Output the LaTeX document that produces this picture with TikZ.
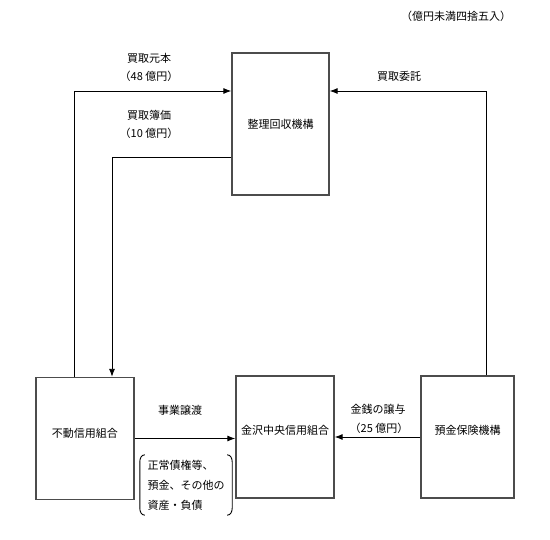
\documentclass[tikz,border=0pt]{standalone}
\usepackage{fontspec}
\setmainfont{Noto Sans CJK JP}
\usetikzlibrary{arrows.meta}

\begin{document}
\begin{tikzpicture}[x=1pt,y=-1pt]
    % styles
    \tikzset{
      orgbox/.style   = {draw=black!70, line width=1.3pt, minimum width=97pt, minimum height=122pt, inner sep=0pt},
      flow/.style     = {-{Latex[length=8pt,width=6pt]}, line width=0.9pt, draw=black},
      lbl/.style      = {font=\fontsize{11}{13}\selectfont, inner sep=0pt},
      brk/.style      = {line width=0.9pt, draw=black}
    }
    \useasboundingbox (0,0) rectangle (550,540);
    \node[lbl] (note) at (456,16) {（億円未満四捨五入）};

    % organisations:
    \node[orgbox, minimum height=142pt, lbl] (seiri) at (280.5,124) {整理回収機構};
    \node[orgbox, minimum width=98pt, label={[lbl,yshift=5pt]center:不動信用組合}] (fudo) at (85,438.5) {};
    \node[orgbox, minimum width=98pt, label={[lbl,yshift=7pt]center:金沢中央信用組合}] (kanazawa) at (285,437) {};
    \node[orgbox, minimum width=93pt, label={[lbl,yshift=7pt]center:預金保険機構}] (yokin) at (467.5,437) {};

    % corners of the connectors:
    \coordinate (gan) at (74,91);
    \coordinate (boka) at (112,157);
    \coordinate (itaku) at (486,91);

    % connectors:
    \draw[flow] (fudo.north -| gan) |- (seiri.west |- gan);
    \draw[flow] (seiri.west |- boka) -| (fudo.north -| boka);
    \draw[flow] (yokin.north -| itaku) |- (seiri.east |- itaku);
    \draw[flow] (fudo.east) -- (fudo.east -| kanazawa.west);
    \draw[flow] (yokin.west) -- (yokin.west -| kanazawa.east);

    % labels:
    \node[lbl] (ganpon) at (149,58) {買取元本};
    \node[lbl] (ganponamt) at (149,76) {（48 億円）};
    \node[lbl] (bokatxt) at (149,115) {買取簿価};
    \node[lbl] (bokaamt) at (149,133) {（10 億円）};
    \node[lbl] (itakutxt) at (399,76) {買取委託};
    \node[lbl] (joto) at (180,410) {事業譲渡};
    \node[lbl] (kinsen) at (378,409) {金銭の譲与};
    \node[lbl] (kinsenamt) at (379,428) {（25 億円）};

    % assets in brackets:
    \node[lbl, font=\fontsize{11}{20}\selectfont, align=left, minimum width=92pt, minimum height=60pt] (assets) at (186,485)
      {正常債権等、\\預金、その他の\\資産・負債};
    \draw[brk] ([xshift=5pt]assets.north west) to[out=180,in=90] ([yshift=-7pt]assets.north west)
      -- ([yshift=7pt]assets.south west) to[out=-90,in=180] ([xshift=5pt]assets.south west);
    \draw[brk] ([xshift=-5pt]assets.north east) to[out=0,in=90] ([yshift=-7pt]assets.north east)
      -- ([yshift=7pt]assets.south east) to[out=-90,in=0] ([xshift=-5pt]assets.south east);
  \end{tikzpicture}
\end{document}
